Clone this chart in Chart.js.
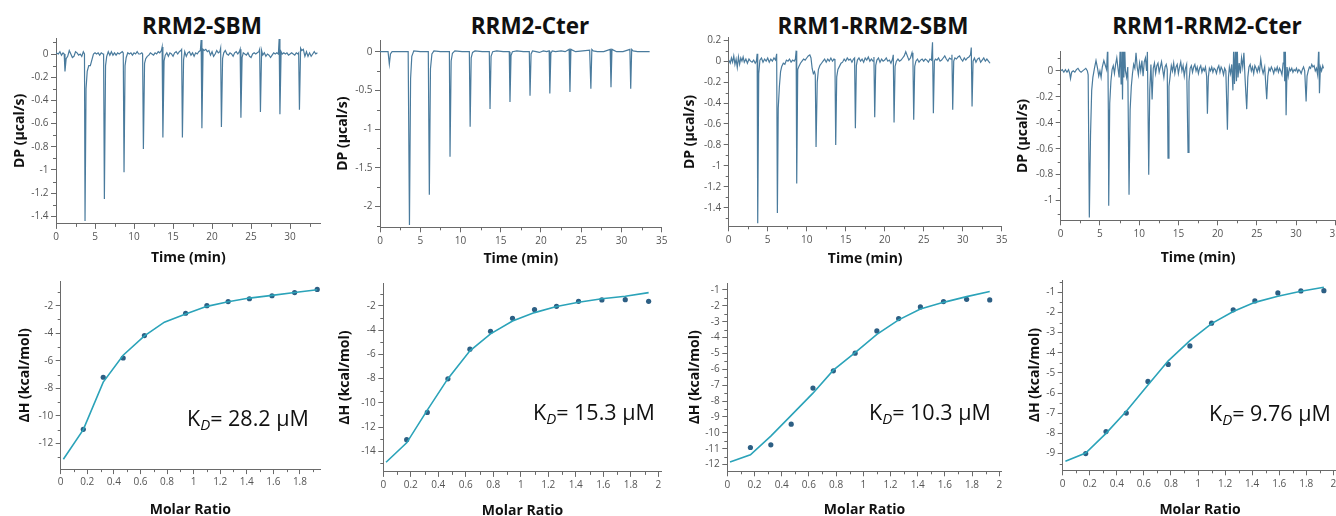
<!DOCTYPE html>
<html>
<head>
<meta charset="utf-8">
<script src="https://cdn.jsdelivr.net/npm/chart.js@4.4.1/dist/chart.umd.min.js"></script>
<style>
  body { margin: 0; width: 1336px; height: 516px; overflow: hidden; background: #fff; position: relative; font-family: 'Open Sans', sans-serif; }
  .box { position: absolute; }
  .ttl { position: absolute; top: 11px; transform: translateX(-50%); font: bold 22.5px 'Open Sans', sans-serif; color: #111; white-space: nowrap; line-height: 30px; }
  .kd { position: absolute; font: 21.5px 'Open Sans', sans-serif; color: #111; white-space: nowrap; line-height: 28px; }
  .kd sub { font-size: 15px; font-style: italic; vertical-align: -4px; line-height: 0; }
</style>
</head>
<body>
<div class="ttl" style="left:202px">RRM2-SBM</div>
<div class="ttl" style="left:530px">RRM2-Cter</div>
<div class="ttl" style="left:873px">RRM1-RRM2-SBM</div>
<div class="ttl" style="left:1207px">RRM1-RRM2-Cter</div>

<div class="box" id="t1"><canvas></canvas></div>
<div class="box" id="t2"><canvas></canvas></div>
<div class="box" id="t3"><canvas></canvas></div>
<div class="box" id="t4"><canvas></canvas></div>
<div class="box" id="b1"><canvas></canvas></div>
<div class="box" id="b2"><canvas></canvas></div>
<div class="box" id="b3"><canvas></canvas></div>
<div class="box" id="b4"><canvas></canvas></div>

<div class="kd" style="left:187px; top:404px">K<sub>D</sub>= 28.2 µM</div>
<div class="kd" style="left:533px; top:398px">K<sub>D</sub>= 15.3 µM</div>
<div class="kd" style="left:869px; top:398px">K<sub>D</sub>= 10.3 µM</div>
<div class="kd" style="left:1209px; top:399px">K<sub>D</sub>= 9.76 µM</div>

<script>
// ---- thermograms (time in min, DP in µcal/s) ----
const sbmTime = [0.0,0.3,0.5,0.7,0.9,1.05,1.15,1.3,1.5,1.7,1.9,2.1,2.3,2.5,2.7,2.9,3.1,3.3,3.5,3.65,3.72,3.85,4.0,4.2,4.4,4.6,4.8,5.0,5.2,5.4,5.6,5.8,6.0,6.1,6.2,6.35,6.5,6.7,6.9,7.1,7.3,7.5,7.7,7.9,8.1,8.3,8.5,8.62,8.72,8.85,9.0,9.2,9.4,9.6,9.8,10.0,10.2,10.4,10.6,10.8,11.0,11.1,11.2,11.35,11.5,11.7,11.9,12.1,12.3,12.5,12.7,12.9,13.1,13.3,13.5,13.6,13.7,13.85,14.0,14.2,14.4,14.6,14.8,15.0,15.2,15.4,15.6,15.8,16.0,16.1,16.2,16.35,16.5,16.7,16.9,17.1,17.3,17.5,17.7,17.9,18.1,18.3,18.5,18.6,18.7,18.85,19.0,19.2,19.4,19.6,19.8,20.0,20.2,20.4,20.6,20.8,21.0,21.1,21.2,21.35,21.5,21.7,21.9,22.1,22.3,22.5,22.7,22.9,23.1,23.3,23.5,23.6,23.7,23.85,24.0,24.2,24.4,24.6,24.8,25.0,25.2,25.4,25.6,25.8,26.0,26.1,26.2,26.35,26.5,26.7,26.9,27.1,27.3,27.5,27.7,27.9,28.1,28.3,28.5,28.6,28.7,28.85,29.0,29.2,29.4,29.6,29.8,30.0,30.2,30.4,30.6,30.8,31.0,31.1,31.2,31.35,31.5,31.7,31.9,32.1,32.3,32.5,32.7,32.9,33.1,33.3,33.5];
const sbmDP = [0.01,0.0,0.02,-0.01,0.01,0.0,-0.15,-0.04,-0.02,0.03,0.0,-0.03,-0.02,0.02,0.01,-0.01,0.0,-0.02,0.02,0.0,-1.44,-0.3,-0.15,-0.1,-0.1,-0.05,0.0,0.01,0.0,0.01,-0.01,0.01,0.0,0.0,-1.25,-0.1,-0.02,0.02,-0.01,0.02,-0.01,0.01,-0.01,0.01,0.0,0.01,0.02,0.01,-1.02,-0.1,-0.03,0.01,0.0,0.01,-0.01,0.01,0.0,0.02,0.0,0.0,0.01,0.0,-0.82,-0.08,-0.04,-0.02,-0.01,0.01,0.0,-0.01,0.01,0.0,0.02,0.01,0.03,0.06,-0.72,-0.06,-0.01,0.01,-0.02,0.01,0.0,-0.02,0.01,0.02,0.0,0.02,0.03,0.04,-0.72,-0.05,0.02,-0.02,0.01,0.02,-0.01,0.01,-0.02,0.01,0.0,0.02,0.03,0.12,-0.64,0.04,0.03,0.04,0.02,0.03,-0.01,0.02,-0.02,0.0,0.03,0.01,0.02,0.05,-0.63,-0.04,0.01,0.03,0.0,-0.01,0.01,0.0,-0.02,0.01,0.02,0.0,0.02,0.04,-0.55,-0.03,0.01,0.0,-0.01,0.01,-0.02,-0.03,0.0,0.01,0.0,0.01,0.02,0.04,-0.5,0.03,-0.01,0.01,-0.02,0.0,-0.01,-0.03,-0.01,0.01,0.0,0.01,0.0,0.13,-0.52,0.02,0.0,0.01,0.0,0.01,-0.01,0.0,0.01,0.0,-0.01,0.01,0.0,0.01,-0.48,0.05,0.03,0.04,-0.02,0.02,-0.02,0.01,-0.02,0.0,0.02,0.0,0.01];

const cterTime = [0.0,0.5,1.0,1.08,1.16,1.3,1.5,2.5,3.5,3.58,3.66,3.8,3.95,4.2,5.0,6.0,6.06,6.13,6.27,6.45,6.7,7.5,8.55,8.62,8.7,8.84,9.0,9.3,10.2,11.1,11.2,11.33,11.5,11.8,12.7,13.58,13.67,13.8,14.0,14.5,15.3,16.06,16.15,16.28,16.45,17.0,17.8,18.55,18.64,18.77,18.95,19.4,19.8,20.3,20.7,21.02,21.1,21.23,21.4,21.8,22.5,23.0,23.5,23.6,23.72,23.9,24.3,25.2,26.05,26.2,26.32,26.5,27.0,27.8,28.6,28.7,28.82,29.0,29.4,30.2,31.05,31.15,31.27,31.45,32.0,33.0,33.5];
const cterDP = [0.0,0.0,0.0,0.0,-0.16,-0.03,0.0,0.0,0.0,0.0,-2.24,-0.35,-0.06,0.01,0.0,0.0,0.0,-1.85,-0.22,-0.03,0.01,0.0,0.0,0.0,-1.36,-0.12,-0.02,0.01,0.0,0.0,-0.97,-0.08,-0.01,0.01,0.0,0.0,-0.74,-0.06,0.0,0.01,0.0,0.0,-0.65,-0.05,0.0,0.01,0.0,0.0,-0.57,-0.03,0.01,0.0,-0.01,0.01,0.0,0.01,-0.54,-0.02,0.01,0.0,0.01,0.0,0.03,-0.52,0.03,0.02,0.0,0.01,0.02,-0.48,0.03,0.01,0.0,0.0,0.03,-0.46,0.03,0.02,0.0,0.0,0.03,-0.48,0.03,0.01,0.0,0.0,0.0];

const sbm2Time = [0.0,0.2,0.35,0.5,0.65,0.8,0.95,1.1,1.25,1.4,1.55,1.7,1.85,2.0,2.2,2.4,2.6,2.8,3.0,3.2,3.4,3.55,3.65,3.72,3.85,4.0,4.2,4.4,4.6,4.8,5.0,5.2,5.4,5.6,5.8,6.0,6.15,6.24,6.35,6.5,6.65,6.8,7.0,7.2,7.4,7.6,7.8,8.0,8.2,8.4,8.55,8.65,8.72,8.85,9.0,9.2,9.4,9.6,9.8,10.0,10.2,10.4,10.55,10.7,10.85,11.0,11.1,11.2,11.35,11.5,11.7,11.9,12.1,12.3,12.5,12.7,12.9,13.1,13.3,13.5,13.62,13.72,13.85,14.0,14.2,14.4,14.6,14.8,15.0,15.2,15.4,15.6,15.8,16.0,16.14,16.24,16.37,16.5,16.7,16.9,17.1,17.3,17.5,17.7,17.9,18.1,18.3,18.5,18.62,18.72,18.85,19.0,19.2,19.4,19.6,19.8,20.0,20.2,20.4,20.6,20.8,21.0,21.1,21.2,21.33,21.5,21.7,21.9,22.1,22.3,22.5,22.7,22.9,23.1,23.3,23.5,23.62,23.72,23.85,24.0,24.2,24.4,24.6,24.8,25.0,25.2,25.4,25.6,25.8,26.0,26.13,26.24,26.37,26.5,26.7,26.9,27.1,27.3,27.5,27.7,27.9,28.1,28.3,28.5,28.62,28.72,28.85,29.0,29.2,29.4,29.6,29.8,30.0,30.2,30.4,30.6,30.8,31.0,31.1,31.2,31.33,31.5,31.7,31.9,32.1,32.3,32.5,32.7,32.9,33.1,33.3,33.5];
const sbm2DP = [0.01,-0.02,0.03,-0.01,0.05,-0.03,0.02,-0.06,0.04,-0.03,0.03,0.0,0.04,-0.01,0.02,-0.02,0.02,0.0,-0.01,0.01,-0.02,0.0,0.07,-1.55,-0.12,0.01,0.03,-0.01,0.02,0.0,0.03,-0.01,0.02,0.0,0.03,0.01,0.07,-1.45,-0.45,-0.24,-0.1,-0.05,-0.02,-0.03,0.01,0.0,0.02,-0.01,0.01,0.0,0.02,0.1,-1.17,-0.08,-0.05,-0.02,0.0,0.02,0.01,0.03,0.05,0.06,0.03,-0.07,-0.12,-0.1,-0.13,-0.82,-0.2,-0.08,-0.04,-0.02,0.0,0.02,-0.01,0.02,0.0,0.03,0.0,0.02,0.01,-0.8,-0.15,-0.08,-0.05,-0.02,-0.01,0.02,0.0,0.03,0.01,0.02,-0.01,0.02,0.03,-0.64,-0.04,0.01,0.03,0.0,0.02,-0.01,0.03,0.01,0.04,0.0,0.02,0.0,0.04,-0.535,-0.04,0.01,0.03,-0.01,0.02,0.0,0.01,0.03,0.0,0.01,-0.02,0.02,0.06,-0.585,-0.05,0.0,0.02,0.0,0.01,0.03,0.05,0.09,0.05,0.01,0.03,0.08,0.02,-0.56,-0.05,0.0,0.02,-0.01,0.01,0.02,0.0,0.02,0.01,-0.01,0.02,0.01,0.18,-0.497,0.0,0.02,0.01,0.03,0.0,0.01,0.03,0.05,0.02,0.0,0.03,0.02,0.06,-0.465,0.0,0.03,0.02,0.04,0.05,0.02,0.0,0.03,0.01,0.03,0.04,0.06,0.13,-0.434,0.0,0.03,-0.01,0.02,0.03,-0.01,0.01,0.03,0.0,0.02,0.0,-0.02];

const cter2Time = [0.0,0.2,0.4,0.6,0.8,1.0,1.15,1.25,1.4,1.6,1.8,2.0,2.2,2.4,2.6,2.8,3.0,3.2,3.4,3.5,3.65,3.8,3.95,4.1,4.3,4.5,4.7,4.85,5.0,5.15,5.3,5.5,5.7,5.85,6.0,6.07,6.12,6.25,6.4,6.55,6.7,6.85,7.0,7.15,7.3,7.45,7.6,7.7,7.8,7.88,7.95,8.05,8.15,8.25,8.4,8.55,8.71,8.85,9.0,9.15,9.3,9.45,9.6,9.75,9.9,10.05,10.2,10.35,10.5,10.65,10.8,10.95,11.05,11.22,11.35,11.5,11.65,11.8,11.95,12.1,12.25,12.4,12.55,12.7,12.85,13.0,13.15,13.3,13.45,13.58,13.68,13.8,13.95,14.1,14.25,14.4,14.55,14.7,14.85,15.0,15.15,15.3,15.45,15.6,15.75,15.9,16.05,16.23,16.35,16.5,16.65,16.8,16.95,17.1,17.25,17.4,17.55,17.7,17.85,18.0,18.15,18.3,18.45,18.6,18.7,18.82,18.95,19.1,19.25,19.4,19.55,19.7,19.85,20.0,20.15,20.3,20.45,20.6,20.75,20.9,21.05,21.25,21.38,21.5,21.65,21.8,21.95,22.05,22.15,22.3,22.4,22.5,22.6,22.75,22.9,23.05,23.2,23.35,23.5,23.71,23.85,24.0,24.15,24.3,24.45,24.6,24.75,24.9,25.05,25.2,25.35,25.5,25.65,25.8,26.0,26.26,26.4,26.55,26.7,26.85,27.0,27.15,27.3,27.45,27.6,27.75,27.9,28.05,28.2,28.35,28.45,28.55,28.63,28.73,28.85,29.0,29.15,29.3,29.45,29.6,29.75,29.9,30.05,30.2,30.35,30.5,30.65,30.8,30.95,31.1,31.28,31.4,31.55,31.7,31.85,32.0,32.15,32.3,32.45,32.6,32.75,32.9,32.98,33.1,33.25,33.4,33.5];
const cter2DP = [0.0,0.01,-0.01,0.01,-0.01,0.01,-0.02,-0.06,-0.01,0.0,-0.01,0.01,0.02,0.0,-0.01,0.0,0.01,0.02,0.0,-0.03,-1.13,-0.5,-0.15,-0.05,0.02,0.08,0.02,-0.04,0.0,-0.05,0.03,0.08,0.04,0.01,0.2,-0.3,-1.04,-0.25,-0.08,0.01,0.04,-0.02,0.05,0.1,0.02,-0.05,0.2,-0.1,0.2,-0.22,0.2,-0.05,0.2,0.0,-0.05,0.03,-0.954,-0.3,-0.12,-0.02,0.05,0.02,0.14,0.03,-0.03,0.06,0.0,0.08,-0.04,0.07,0.1,0.0,0.15,-0.8,-0.15,0.05,-0.22,0.02,0.06,-0.02,0.04,0.06,-0.01,0.03,0.07,0.01,-0.05,0.03,0.05,0.01,-0.672,-0.12,-0.04,0.04,0.0,0.06,-0.02,0.03,0.05,-0.02,0.03,0.07,0.0,0.04,-0.04,0.02,0.05,-0.628,-0.08,0.02,0.04,-0.01,0.03,0.05,0.0,0.03,-0.02,0.02,0.04,-0.01,0.02,0.0,0.03,-0.04,-0.33,-0.05,0.02,0.0,0.03,-0.01,0.02,0.01,-0.02,0.02,0.04,-0.01,0.03,0.01,-0.03,0.02,0.0,-0.454,-0.05,0.03,-0.02,0.05,-0.15,0.2,-0.1,0.2,-0.08,0.2,-0.05,0.06,-0.02,0.1,0.03,0.14,-0.06,-0.295,-0.05,0.03,0.05,0.0,0.03,-0.02,0.04,0.02,-0.01,0.03,0.0,0.09,0.02,-0.02,0.03,-0.218,-0.04,0.02,0.0,0.03,0.01,-0.02,0.02,0.0,0.03,-0.01,0.02,0.0,-0.03,0.06,0.2,-0.08,0.2,-0.341,0.03,-0.04,0.02,0.0,0.02,-0.01,0.01,0.0,0.02,-0.01,0.01,0.0,-0.02,0.01,0.03,0.0,-0.236,-0.04,0.0,0.03,0.02,0.05,0.03,0.04,0.0,0.02,-0.03,0.2,-0.172,0.03,0.0,0.04,0.02];

// ---- isotherms (molar ratio, ΔH in kcal/mol) ----
const ratioSbm = [0.17,0.32,0.47,0.63,0.94,1.10,1.26,1.42,1.59,1.76,1.93];
const dhSbm = [-10.98,-7.2,-5.8,-4.17,-2.55,-2.0,-1.7,-1.5,-1.28,-1.05,-0.82];
const ratioAll = [0.17,0.32,0.47,0.63,0.78,0.94,1.10,1.26,1.42,1.59,1.76,1.93];
const dhCter = [-13.04,-10.79,-8.02,-5.57,-4.09,-3.02,-2.3,-2.03,-1.62,-1.5,-1.48,-1.62];
const dhSbm2 = [-10.92,-10.75,-9.45,-7.18,-6.09,-4.98,-3.58,-2.8,-2.07,-1.73,-1.59,-1.63];
const dhCter2 = [-9.0,-7.91,-6.99,-5.42,-4.58,-3.66,-2.53,-1.87,-1.43,-1.03,-0.93,-0.92];

const fitRatio = [0.02,0.17,0.32,0.47,0.63,0.78,0.94,1.10,1.26,1.42,1.59,1.76,1.93];
const fitSbm = [-13.15,-11.0,-7.55,-5.6,-4.2,-3.2,-2.6,-2.05,-1.72,-1.45,-1.25,-1.05,-0.85];
const fitCter = [-14.9,-13.3,-10.6,-8.0,-5.7,-4.3,-3.25,-2.55,-2.05,-1.7,-1.4,-1.2,-0.9];
const fitSbm2 = [-11.84,-11.38,-10.2,-8.9,-7.5,-6.05,-4.95,-3.8,-2.88,-2.2,-1.78,-1.42,-1.1];
const fitCter2 = [-9.38,-8.97,-8.0,-6.9,-5.6,-4.4,-3.4,-2.55,-1.95,-1.5,-1.2,-0.95,-0.75];

const axisColor = '#6a6a6a';
const traceColor = '#4a7b9d';
const fitColor = '#2ba3b9';
const pointColor = '#2d5f84';

Chart.defaults.font.family = "'Open Sans', sans-serif";
Chart.defaults.animation = false;

const pairs = (xs, ys) => xs.map((x, i) => ({x: x, y: ys[i]}));

// short minor tick marks between the labelled ones
const minorTicks = {
  id: 'minorTicks',
  afterDraw(chart, args, opts) {
    const ctx = chart.ctx;
    ctx.save();
    ctx.strokeStyle = axisColor;
    ctx.lineWidth = 1;
    ctx.beginPath();
    ['x', 'y'].forEach(id => {
      const s = chart.scales[id];
      const step = opts[id + 'Minor'], major = opts[id + 'Major'];
      for (let k = Math.ceil(s.min / step - 1e-9); k * step <= s.max + 1e-9; k++) {
        const v = k * step;
        if (Math.abs(v / major - Math.round(v / major)) < 1e-6) continue;
        const p = Math.round(s.getPixelForValue(v)) + 0.5;
        if (id === 'x') { ctx.moveTo(p, s.top); ctx.lineTo(p, s.top + 3); }
        else { ctx.moveTo(s.right, p); ctx.lineTo(s.right - 3, p); }
      }
    });
    ctx.stroke();
    ctx.restore();
  }
};

function makeScale(min, max, step, title, fixSize) {
  return {
    type: 'linear', min: min, max: max,
    afterFit: fixSize,
    border: {display: true, color: axisColor, width: 1},
    grid: {display: true, drawOnChartArea: false, drawTicks: true, tickLength: 5, color: axisColor},
    ticks: {stepSize: step, includeBounds: false, autoSkip: false, maxRotation: 0, padding: 2.5,
            callback: v => String(+v.toFixed(3)),
            color: '#555', font: {family: "'Liberation Sans Narrow', 'Open Sans', sans-serif", size: 10}},
    title: {display: true, text: title, color: '#111', padding: 0,
            font: {family: "'Open Sans', sans-serif", size: 14, weight: 'bold'}}
  };
}

function build(id, plot, yTitleX, xTitleY, xs, ys, titles, datasets) {
  const box = document.getElementById(id);
  const left = Math.round(yTitleX - 8.4);
  const boxTop = Math.round(plot.t - 10);
  const yW = plot.l - left;
  const padTop = plot.t - boxTop;
  const xH = xTitleY + 8.4 - plot.b;
  const width = Math.round(plot.r - left + 12);
  const height = Math.round(plot.b - boxTop + xH);
  Object.assign(box.style, {left: left + 'px', top: boxTop + 'px', width: width + 'px', height: height + 'px'});
  new Chart(box.querySelector('canvas'), {
    type: 'line',
    data: {datasets: datasets},
    options: {
      responsive: true, maintainAspectRatio: false,
      layout: {autoPadding: false, padding: {top: padTop, right: width - (plot.r - left), left: 0, bottom: 0}},
      plugins: {legend: {display: false}, tooltip: {enabled: false},
                minorTicks: {xMinor: xs[3], xMajor: xs[2], yMinor: ys[3], yMajor: ys[2]}},
      scales: {
        x: makeScale(xs[0], xs[1], xs[2], titles[0], s => { s.height = xH; }),
        y: makeScale(ys[0], ys[1], ys[2], titles[1], s => { s.width = yW; })
      }
    },
    plugins: [minorTicks]
  });
}

function thermo(id, plot, yx, xty, xs, ys, t, d) {
  build(id, plot, yx, xty, xs, ys, ['Time (min)', 'DP (µcal/s)'],
    [{data: pairs(t, d), borderColor: traceColor, borderWidth: 1.2, pointRadius: 0, tension: 0}]);
}

function iso(id, plot, yx, xty, xs, ys, px, py, fy) {
  build(id, plot, yx, xty, xs, ys, ['Molar Ratio', 'ΔH (kcal/mol)'], [
    {data: pairs(fitRatio, fy), borderColor: fitColor, borderWidth: 1.6, pointRadius: 0, tension: 0},
    {data: pairs(px, py), showLine: false, pointRadius: 2.6, pointBackgroundColor: pointColor, pointBorderWidth: 0}
  ]);
}

thermo('t1', {l: 56, t: 38, r: 320.5, b: 224.3}, 20, 258, [0, 33.9, 5, 2.5], [-1.465, 0.138, 0.2, 0.1], sbmTime, sbmDP);
thermo('t2', {l: 380, t: 40, r: 661.7, b: 227.7}, 343, 259, [0, 35, 5, 2.5], [-2.271, 0.151, 0.5, 0.25], cterTime, cterDP);
thermo('t3', {l: 728.7, t: 37.7, r: 1001.7, b: 226.7}, 690, 259, [0, 35, 5, 2.5], [-1.578, 0.224, 0.2, 0.1], sbm2Time, sbm2DP);
thermo('t4', {l: 1060.7, t: 51.7, r: 1335.3, b: 220.7}, 1023, 258, [0, 35, 5, 2.5], [-1.152, 0.148, 0.2, 0.1], cter2Time, cter2DP);

iso('b1', {l: 60.7, t: 281.7, r: 320, b: 469.5}, 25, 510, [0, 1.951, 0.2, 0.1], [-13.87, -0.26, 2, 1], ratioSbm, dhSbm, fitSbm);
iso('b2', {l: 383.3, t: 283.3, r: 661.7, b: 472.3}, 345, 511, [0, 2.025, 0.2, 0.1], [-15.7, -0.13, 2, 1], ratioAll, dhCter, fitCter);
iso('b3', {l: 727.3, t: 283.3, r: 1001.7, b: 471.7}, 695, 510, [0, 2.018, 0.2, 0.1], [-12.42, -0.58, 1, 0.5], ratioAll, dhSbm2, fitSbm2);
iso('b4', {l: 1062.7, t: 280, r: 1337.4, b: 470.7}, 1035, 510, [0, 2.03, 0.2, 0.1], [-9.83, -0.39, 1, 0.5], ratioAll, dhCter2, fitCter2);
</script>
</body>
</html>
